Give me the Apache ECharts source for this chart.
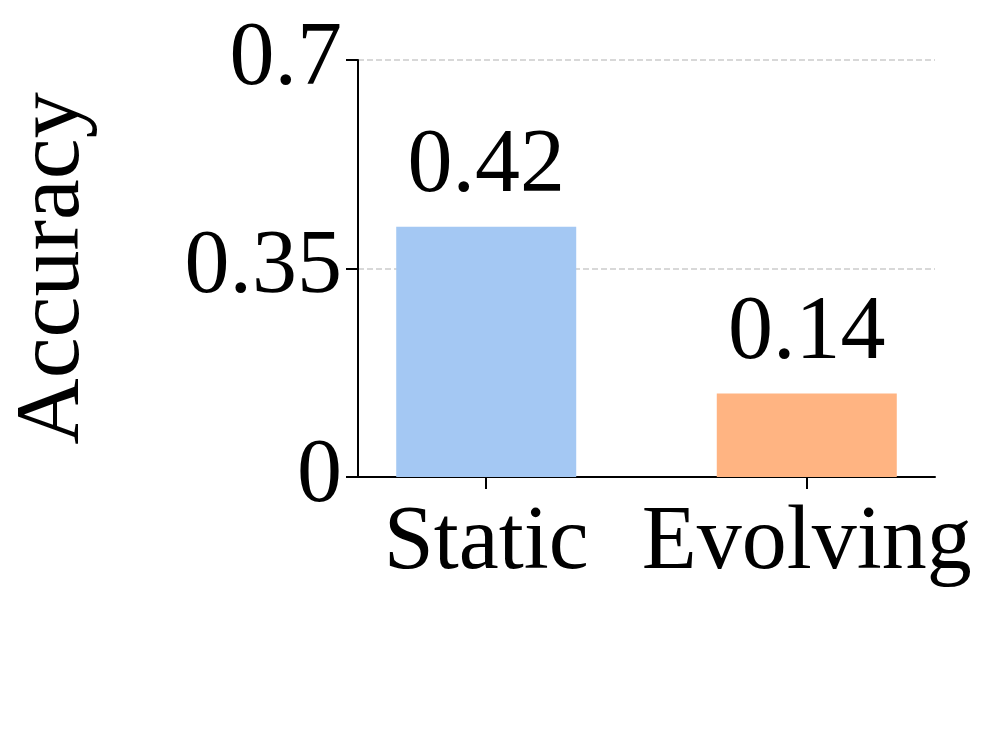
<!DOCTYPE html>
<html>
<head>
<meta charset="UTF-8">
<script src="https://cdn.jsdelivr.net/npm/echarts@6/dist/echarts.min.js"></script>
<style>body{margin:0}#c{width:996px;height:747px}</style>
</head>
<body>
<div id="c"></div>
<script>
var categories = ['Static', 'Evolving'];
var values = [0.42, 0.14];
var colors = ['#a4c8f3', '#ffb482'];
var yTicks = [0, 0.35, 0.7];

var font = 'Liberation Serif';
var chart = echarts.init(document.getElementById('c'));
chart.setOption({
    animation: false,
    backgroundColor: '#fff',
    grid: { left: 348, right: 61, top: 60, bottom: 270 },
    xAxis: {
        type: 'value', min: -0.4, max: 1.4, interval: 0.2,
        splitLine: { show: false },
        axisLine: { onZero: false, lineStyle: { color: '#000', width: 2 } },
        axisTick: { show: true, customValues: [0, 1], length: 12, lineStyle: { color: '#000', width: 2 } },
        axisLabel: {
            customValues: [0, 1], margin: 22,
            fontFamily: font, fontSize: 90, color: '#000',
            formatter: function (v) { return categories[Math.round(v)] || ''; }
        }
    },
    yAxis: {
        type: 'value', min: 0, max: 0.7, interval: 0.35,
        name: 'Accuracy', nameLocation: 'middle', nameGap: 258,
        nameTextStyle: { fontFamily: font, fontSize: 92, color: '#000' },
        axisLine: { show: true, onZero: false, lineStyle: { color: '#000', width: 2 } },
        axisTick: { show: true, length: 12, lineStyle: { color: '#000', width: 2 } },
        axisLabel: { fontFamily: font, fontSize: 90, color: '#000', margin: 16,
            formatter: function (v) { return yTicks.indexOf(v) >= 0 ? String(v) : ''; } },
        splitLine: { lineStyle: { type: 'dashed', color: '#cccccc', width: 1.5 } }
    },
    series: [{
        type: 'bar', barWidth: 180,
        data: values.map(function (v, i) {
            return { value: [i, v], itemStyle: { color: colors[i] } };
        }),
        label: { show: true, position: 'top', distance: 14, fontFamily: font, fontSize: 90, color: '#000',
            formatter: function (p) { return p.value[1].toFixed(2); } }
    }]
});
</script>
</body>
</html>
